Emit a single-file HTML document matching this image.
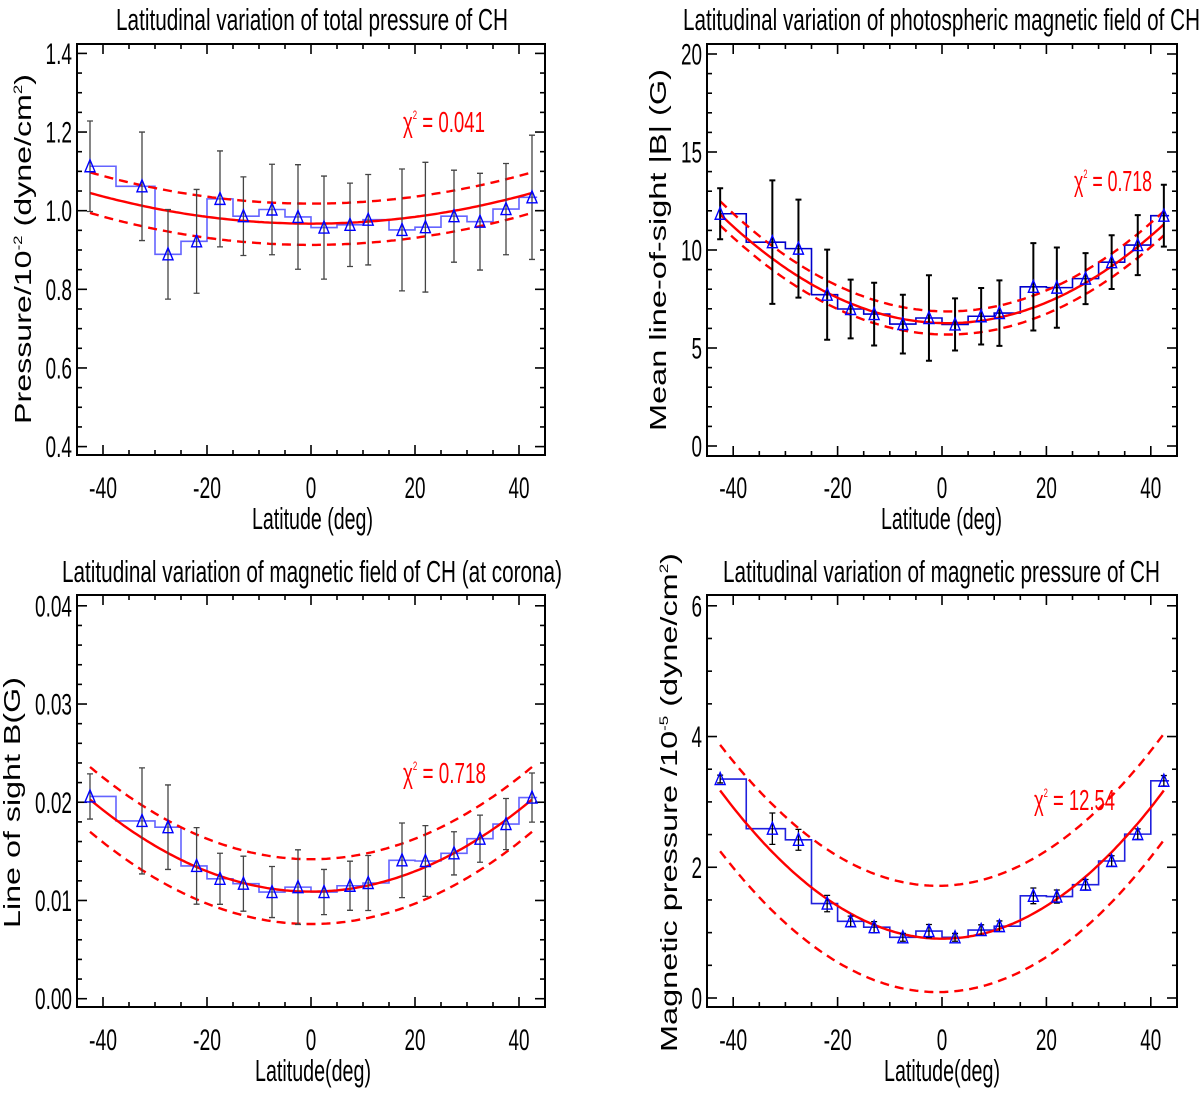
<!DOCTYPE html>
<html><head><meta charset="utf-8"><style>
html,body{margin:0;padding:0;background:#fff;}
svg{display:block;}
text{font-family:"Liberation Sans",sans-serif;}
</style></head><body>
<svg id="fig" width="1200" height="1096" viewBox="0 0 1200 1096" xmlns="http://www.w3.org/2000/svg"></svg>
<script>
// ---- data ----
const lat = [-42.5,-32.5,-27.5,-22,-17.5,-13,-7.5,-2.5,2.5,7.5,11,17.5,22,27.5,32.5,37.5,42.5];
const edges = [-42.5,-37.5,-30,-25,-20,-15,-10,-5,0,5,10,15,20,25,30,35,40,43.5];

const p1Val = [1.113,1.062,0.889,0.922,1.030,0.986,1.003,0.984,0.957,0.964,0.977,0.951,0.958,0.986,0.972,1.004,1.034];
const p1Err = [0.115,0.138,0.114,0.132,0.122,0.100,0.115,0.133,0.131,0.106,0.115,0.155,0.165,0.117,0.123,0.116,0.158];
const p1Fit = [0.967,0.0,4.32e-5];
const p1Up  = [1.018,0.0,4.4e-5];
const p1Lo  = [0.913,0.0,4.5e-5];

const p2Val = [11.85,10.40,10.07,7.72,6.99,6.73,6.22,6.53,6.20,6.62,6.78,8.12,8.08,8.54,9.38,10.25,11.75];
const p2Err = [1.30,3.15,2.50,2.30,1.50,1.60,1.50,2.18,1.33,1.44,1.67,2.23,2.05,1.30,1.37,1.53,1.58];
const p2Fit = [6.27,-0.006,2.93e-3];
const p2Up  = [6.87,-0.006,2.97e-3];
const p2Lo  = [5.69,-0.006,2.94e-3];

const p3Val = [0.02059,0.0181,0.01746,0.01352,0.01221,0.01171,0.01086,0.01136,0.01086,0.0115,0.01178,0.01409,0.01402,0.0148,0.01629,0.01778,0.02048];
const p3Err = [0.0023,0.0054,0.0043,0.0039,0.0026,0.0028,0.0026,0.0038,0.0023,0.0025,0.0028,0.0038,0.0036,0.0022,0.0024,0.0026,0.0025];
const p3Fit = [0.0109,0.0,5.19e-6];
const p3Up  = [0.0142,0.0,5.2e-6];
const p3Lo  = [0.0076,0.0,5.2e-6];

const p4Val = [3.35,2.59,2.42,1.445,1.173,1.083,0.928,1.024,0.928,1.04,1.099,1.563,1.552,1.733,2.096,2.507,3.323];
const p4Err = [0.06,0.24,0.16,0.125,0.08,0.085,0.06,0.10,0.06,0.08,0.08,0.12,0.10,0.08,0.08,0.08,0.08];
const p4Fit = [0.907,0.0,1.255e-3];
const p4Up  = [1.717,0.002,1.24e-3];
const p4Lo  = [0.091,0.002,1.24e-3];

const xTickLabels = ["-40","-20","0","20","40"];
const p1YTicks = [0.4,0.6,0.8,1.0,1.2,1.4];
const p2YTicks = [0,5,10,15,20];
const p3YTicks = [0.00,0.01,0.02,0.03,0.04];
const p4YTicks = [0,2,4,6];

// ---- drawing ----
const NS = "http://www.w3.org/2000/svg";
const svg = document.getElementById('fig');
function el(tag, attrs, parent){
  const e = document.createElementNS(NS, tag);
  for (const k in attrs) e.setAttribute(k, attrs[k]);
  (parent||svg).appendChild(e);
  return e;
}
function labW(s){ let w=0; for(const c of s){ w += (c==='.')?5.5:(c==='-')?7:10.5; } return w; }

function panel(cfg){
  const g = el('g', {});
  
  
  const X = d => cfg.x0 + d*cfg.xs;
  const Y = v => cfg.ya[1] + (v - cfg.ya[0])*(cfg.yb[1]-cfg.ya[1])/(cfg.yb[0]-cfg.ya[0]);
  const L=cfg.L,R=cfg.R,T=cfg.T,B=cfg.B;

  const t = el('text',{x:(cfg.tx0+cfg.tx1)/2,y:cfg.ty,'font-size':31,'text-anchor':'middle',textLength:cfg.tx1-cfg.tx0,lengthAdjust:'spacingAndGlyphs',fill:'#000'},g);
  t.textContent = cfg.title;
  
  

  const tk = el('g',{stroke:'#000','stroke-width':1.6},g);
  
  
  for (let d=-45; d<=45; d+=5){
    if (d===-45||d===45) continue;
    const len = (d%20===0)?10:5;
    el('line',{x1:X(d),x2:X(d),y1:B,y2:B-len},tk);
    el('line',{x1:X(d),x2:X(d),y1:T,y2:T+len},tk);
  }
  for (let v=cfg.yMinor0; v<=cfg.yMinorMax+1e-9; v+=cfg.yMinorStep){
    const yy=Y(v); if (yy<T+1||yy>B-1) continue;
    const isMaj = cfg.yticks.some(m=>Math.abs(m-v)<cfg.yMinorStep/10);
    const len = isMaj?10:5;
    el('line',{x1:L,x2:L+len,y1:yy,y2:yy},tk);
    el('line',{x1:R,x2:R-len,y1:yy,y2:yy},tk);
  }
  [-40,-20,0,20,40].forEach((d,i)=>{
    const s=xTickLabels[i];
    const e=el('text',{x:X(d),y:cfg.xly,'font-size':30,'text-anchor':'middle',textLength:labW(s),lengthAdjust:'spacingAndGlyphs'},g);
    e.textContent=s;
    
    
  });
  cfg.yticks.forEach(v=>{
    const s=v.toFixed(cfg.dec);
    const e=el('text',{x:L-5,y:Y(v)+10.5,'font-size':30,'text-anchor':'end',textLength:labW(s),lengthAdjust:'spacingAndGlyphs'},g);
    e.textContent=s;
    
    
  });
  const xt=el('text',{x:(cfg.xt0+cfg.xt1)/2,y:cfg.xty,'font-size':31,'text-anchor':'middle',textLength:cfg.xt1-cfg.xt0,lengthAdjust:'spacingAndGlyphs'},g);
  xt.textContent=cfg.xtitle;
  
  
  const yc=(cfg.yt0+cfg.yt1)/2;
  const yt=el('text',{x:cfg.ytx,y:yc,'font-size':23,'text-anchor':'middle',textLength:cfg.yt1-cfg.yt0,lengthAdjust:'spacingAndGlyphs',transform:`rotate(-90 ${cfg.ytx} ${yc})`},g);
  yt.innerHTML=cfg.ytitle;
  
  

  let dStr='';
  for(let i=0;i<cfg.val.length;i++){
    const y=Y(cfg.val[i]);
    dStr += (i===0?`M${X(edges[0])},${y}`:`L${X(edges[i])},${y}`) + `L${X(edges[i+1])},${y}`;
  }
  const h=el('path',{d:dStr,fill:'none',stroke:cfg.histColor,'stroke-width':1.6},g);
  
  

  const curve=(c,dash,name)=>{
    let p='';
    for(let d=-42.5; d<=42.51; d+=0.5){
      const v=c[0]+c[1]*d+c[2]*d*d;
      p+=(p?'L':'M')+X(d).toFixed(1)+','+Y(v).toFixed(1);
    }
    const e=el('path',{d:p,fill:'none',stroke:'#ff0000','stroke-width':2.4},g);
    if(dash) e.setAttribute('stroke-dasharray','9,6');
    
    
  };
  curve(cfg.fit,false,'fit-curve');
  curve(cfg.up,true,'upper-bound-curve');
  curve(cfg.lo,true,'lower-bound-curve');

  for(let i=0;i<lat.length;i++){
    const x=X(lat[i]), y1=Y(cfg.val[i]+cfg.err[i]), y2=Y(cfg.val[i]-cfg.err[i]);
    const eb=el('path',{d:`M${x},${y1}L${x},${y2}M${x-3},${y1}L${x+3},${y1}M${x-3},${y2}L${x+3},${y2}`,stroke:cfg.errColor,'stroke-width':cfg.errW,fill:'none'},g);
    
    
  }
  for(let i=0;i<lat.length;i++){
    const x=X(lat[i]), y=Y(cfg.val[i]);
    const tr=el('path',{d:`M${x},${y-6.5}L${x+5},${y+5.5}L${x-5},${y+5.5}Z`,fill:'none',stroke:'#0000ff','stroke-width':1.4},g);
    
    
  }
  const ch=el('text',{x:cfg.cx0,y:cfg.cy,'font-size':29,fill:'#ff0000',textLength:cfg.cx1-cfg.cx0,lengthAdjust:'spacingAndGlyphs'},g);
  ch.innerHTML='χ<tspan font-size="12" dy="-13">2</tspan><tspan dy="13"> = '+cfg.chi+'</tspan>';
  
  

  const fr=el('rect',{x:L,y:T,width:R-L,height:B-T,fill:'none',stroke:'#000','stroke-width':2},g);
  
  
}

panel({name:'panel-total-pressure',L:77,R:545,T:44,B:455,x0:311,xs:5.2,ya:[0.4,446.6],yb:[1.4,53.4],
  yticks:p1YTicks,dec:1,yMinor0:0.4,yMinorMax:1.4,yMinorStep:0.05,
  title:'Latitudinal variation of total pressure of CH',tx0:116,tx1:508,ty:30,
  xtitle:'Latitude (deg)',xt0:252,xt1:373,xty:529,xly:498,
  ytitle:'Pressure/10<tspan font-size="12" dy="-9">-2</tspan><tspan dy="9"> (dyne/cm</tspan><tspan font-size="12" dy="-9">2</tspan><tspan dy="9">)</tspan>',ytx:31,yt0:74,yt1:424,
  val:p1Val,err:p1Err,fit:p1Fit,up:p1Up,lo:p1Lo,histColor:'#6464ff',errColor:'#444',errW:1.3,
  chi:'0.041',cx0:403,cx1:485,cy:132});

panel({name:'panel-photospheric-field',L:707,R:1177,T:44,B:456,x0:942,xs:5.22,ya:[0,446],yb:[20,54],
  yticks:p2YTicks,dec:0,yMinor0:0,yMinorMax:20,yMinorStep:1,
  title:'Latitudinal variation of photospheric magnetic field of CH',tx0:683,tx1:1200,ty:30,
  xtitle:'Latitude (deg)',xt0:881,xt1:1002,xty:529,xly:498,
  ytitle:'Mean line-of-sight |B| (G)',ytx:666,yt0:69,yt1:431,
  val:p2Val,err:p2Err,fit:p2Fit,up:p2Up,lo:p2Lo,histColor:'#0000cc',errColor:'#000',errW:2,
  chi:'0.718',cx0:1074,cx1:1152,cy:191});

panel({name:'panel-coronal-field',L:77,R:545,T:595,B:1007,x0:311,xs:5.2,ya:[0,998.7],yb:[0.04,605.8],
  yticks:p3YTicks,dec:2,yMinor0:0,yMinorMax:0.04,yMinorStep:0.002,
  title:'Latitudinal variation of magnetic field of CH (at corona)',tx0:62,tx1:562,ty:582,
  xtitle:'Latitude(deg)',xt0:255,xt1:371,xty:1081,xly:1050,
  ytitle:'Line of sight B(G)',ytx:20,yt0:677,yt1:928,
  val:p3Val,err:p3Err,fit:p3Fit,up:p3Up,lo:p3Lo,histColor:'#6464ff',errColor:'#444',errW:1.3,
  chi:'0.718',cx0:403,cx1:486,cy:783});

panel({name:'panel-magnetic-pressure',L:707,R:1177,T:595,B:1007,x0:942,xs:5.22,ya:[0,998],yb:[6,605.8],
  yticks:p4YTicks,dec:0,yMinor0:0,yMinorMax:6,yMinorStep:0.5,
  title:'Latitudinal variation of magnetic pressure of CH',tx0:723,tx1:1160,ty:582,
  xtitle:'Latitude(deg)',xt0:884,xt1:1000,xty:1081,xly:1050,
  ytitle:'Magnetic pressure /10<tspan font-size="12" dy="-9">-5</tspan><tspan dy="9"> (dyne/cm</tspan><tspan font-size="12" dy="-9">2</tspan><tspan dy="9">)</tspan>',ytx:677,yt0:553,yt1:1052,
  val:p4Val,err:p4Err,fit:p4Fit,up:p4Up,lo:p4Lo,histColor:'#2020dd',errColor:'#000',errW:1.3,
  chi:'12.54',cx0:1034,cx1:1115,cy:810});
</script>
</body></html>
